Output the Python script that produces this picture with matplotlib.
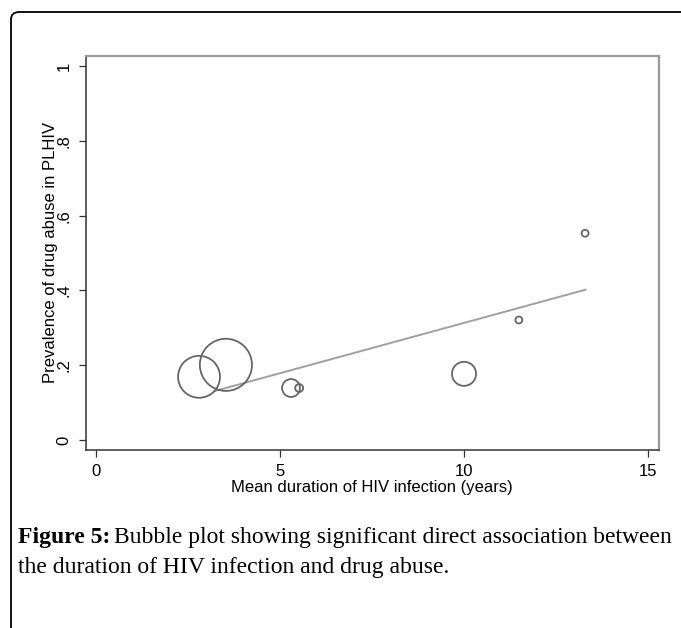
import matplotlib.pyplot as plt
from matplotlib.patches import FancyBboxPatch

# Mean duration of HIV infection (years) and prevalence of drug abuse in PLHIV
duration = [2.8, 3.53, 5.3, 5.52, 10.0, 11.49, 13.29]
prevalence = [0.169, 0.201, 0.139, 0.139, 0.177, 0.321, 0.553]
# relative study weights (bubble area)
weights = [440, 680, 80, 16, 145, 12, 12]

# fitted line end points
fit_x = [3.23, 13.3]
fit_y = [0.131, 0.402]

x_ticks = [0, 5, 10, 15]
y_ticks = [0, 0.2, 0.4, 0.6, 0.8, 1.0]
y_tick_labels = ['0', '.2', '.4', '.6', '.8', '1']

plt.rcParams['font.family'] = ['Liberation Sans', 'DejaVu Sans']

fig = plt.figure(figsize=(6.81, 6.28), dpi=100)

# rounded frame around the figure
frame = FancyBboxPatch((11 / 681, -0.2), 1.2, 1 - 12 / 628 + 0.2,
                       boxstyle='round,pad=0,rounding_size=0.012',
                       transform=fig.transFigure, fill=False,
                       edgecolor='black', linewidth=1.3)
fig.patches.append(frame)

ax = fig.add_axes([85.7 / 681, 1 - 449.7 / 628, (658.7 - 85.7) / 681, (449.7 - 55.7) / 628])

# bubble area scaled from weights (1 px = 0.72 pt)
sizes = [w * 4 * 0.72 ** 2 for w in weights]
ax.scatter(duration, prevalence, s=sizes, facecolors='none',
           edgecolors='#666666', linewidths=1.3, zorder=3)
ax.plot(fit_x, fit_y, color='#a0a0a0', linewidth=1.4, zorder=2)

ax.set_xlim(-0.28, 15.29)
ax.set_ylim(-0.026, 1.028)
ax.set_xticks(x_ticks)
ax.set_xticklabels([str(t) for t in x_ticks])
ax.set_yticks(y_ticks)
ax.set_yticklabels(y_tick_labels, rotation=90, va='center')

ax.tick_params(axis='both', direction='out', length=5, width=0.9,
               colors='#333333', labelcolor='black', labelsize=12)
ax.tick_params(axis='x', pad=5)
ax.tick_params(axis='y', pad=5)

for side in ['left', 'bottom']:
    ax.spines[side].set_color('#333333')
    ax.spines[side].set_linewidth(1.1)
for side in ['top', 'right']:
    ax.spines[side].set_color('#999999')
    ax.spines[side].set_linewidth(1.6)

ax.set_xlabel('Mean duration of HIV infection (years)', fontsize=12, labelpad=1)
ax.set_ylabel('Prevalence of drug abuse in PLHIV', fontsize=12, labelpad=-1)

# caption: bold "Figure 5:" followed by regular text
cap_size = 17
x0, y1, y2 = 18 / 681, 1 - 538 / 628, 1 - 567 / 628
bold = fig.text(x0, y1, 'Figure 5:', fontsize=cap_size, family='Liberation Serif',
                weight='bold', va='center')
fig.canvas.draw()
bb = bold.get_window_extent().transformed(fig.transFigure.inverted())
fig.text(bb.x1 + 4 / 681, y1,
         'Bubble plot showing significant direct association between',
         fontsize=cap_size, family='Liberation Serif', va='center')
fig.text(x0, y2, 'the duration of HIV infection and drug abuse.',
         fontsize=cap_size, family='Liberation Serif', va='center')

fig.savefig('out.png', dpi=100)
